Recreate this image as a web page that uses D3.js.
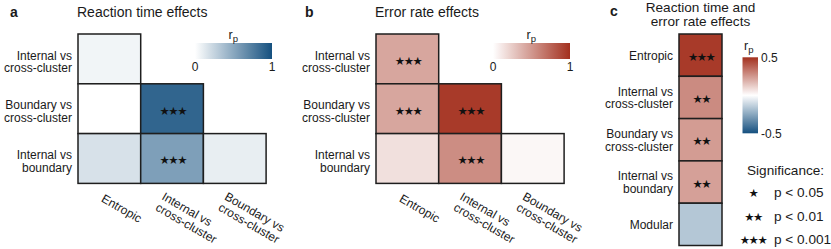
<!DOCTYPE html>
<html><head><meta charset="utf-8">
<script src="https://cdn.jsdelivr.net/npm/d3@7"></script>
<style>
body{margin:0;background:#fff;}
text{font-family:"Liberation Sans",Arial,Helvetica,sans-serif;fill:#1a1a1a;}
.star{font-family:"DejaVu Sans",sans-serif;fill:#111;}
</style></head>
<body>
<svg id="chart" width="831" height="249"></svg>
<script>
// ---------- DATA ----------
const rowLabels = ["Internal vs\ncross-cluster", "Boundary vs\ncross-cluster", "Internal vs\nboundary"];
const colLabels = ["Entropic", "Internal vs\ncross-cluster", "Boundary vs\ncross-cluster"];
// lower-triangular matrices: row i has columns 0..i
const rtValues = [[0.06], [0.0, 0.88], [0.17, 0.55, 0.1]];
const rtSig    = [[""], ["", "***"], ["", "***", ""]];
const erValues = [[0.43], [0.43, 0.95], [0.15, 0.55, 0.04]];
const erSig    = [["***"], ["***", "***"], ["", "***", ""]];
const cLabels  = ["Entropic", "Internal vs\ncross-cluster", "Boundary vs\ncross-cluster", "Internal vs\nboundary", "Modular"];
const cValues  = [0.475, 0.28, 0.24, 0.23, -0.16];
const cSig     = ["***", "**", "**", "**", ""];
const sigLevels = [["*", "p < 0.05"], ["**", "p < 0.01"], ["***", "p < 0.001"]];

// ---------- COLOURS ----------
const BLUE = "#15507f", RED = "#a3301e";
const blueScale = d3.scaleLinear().domain([0, 1]).range(["#ffffff", BLUE]).interpolate(d3.interpolateRgb);
const redScale  = d3.scaleLinear().domain([0, 1]).range(["#ffffff", RED]).interpolate(d3.interpolateRgb);
const divScale  = d3.scaleLinear().domain([-0.5, 0, 0.5]).range([BLUE, "#ffffff", RED]).interpolate(d3.interpolateRgb);

const svg = d3.select("#chart");
const STROKE = "#1e1e1e";
const LH = 12.6;

function multiline(sel, txt, lh) {
  txt.split("\n").forEach((l, i) => sel.append("tspan").attr("x", 0).attr("dy", i === 0 ? 0 : lh).text(l));
}

function starText(g, x, y, s, size) {
  g.append("text").attr("class", "star").attr("x", x).attr("y", y)
    .attr("text-anchor", "middle").attr("dominant-baseline", "central")
    .attr("font-size", size).attr("letter-spacing", -1.5).text(s.replace(/\*/g, "★"));
}

function triPanel(opts) {
  const {x0, y0, w, h, values, sig, scale, letter, title, letterX, cb} = opts;
  const g = svg.append("g");
  const xs = d3.scaleBand().domain(d3.range(3)).range([x0, x0 + 3 * w]).padding(0);
  const ys = d3.scaleBand().domain(d3.range(3)).range([y0, y0 + 3 * h]).padding(0);
  const cells = [];
  values.forEach((row, i) => row.forEach((v, j) => cells.push({i, j, v, s: sig[i][j]})));
  g.selectAll("rect.cell").data(cells).enter().append("rect")
    .attr("x", d => xs(d.j)).attr("y", d => ys(d.i))
    .attr("width", xs.bandwidth()).attr("height", ys.bandwidth())
    .attr("fill", d => scale(d.v)).attr("stroke", STROKE).attr("stroke-width", 1.5);
  cells.filter(d => d.s).forEach(d => starText(g, xs(d.j) + xs.bandwidth() / 2 + 0.7, ys(d.i) + ys.bandwidth() / 2 + 1.8, d.s, 11.5));
  // row labels
  rowLabels.forEach((l, i) => {
    const t = g.append("text").attr("text-anchor", "end").attr("font-size", 12)
      .attr("transform", `translate(${x0 - 6},${ys(i) + ys.bandwidth() / 2 + 0.7})`);
    multiline(t, l, LH);
  });
  // column labels (rotated)
  colLabels.forEach((l, j) => {
    const single = !l.includes("\n");
    const cx = xs(j) + xs.bandwidth() / 2 + (single ? -8.8 : -11);
    const cy = y0 + 3 * h + (single ? 17.5 : 15.5);
    const t = g.append("text").attr("font-size", 12)
      .attr("transform", `translate(${cx},${cy}) rotate(30)`);
    multiline(t, l, LH);
  });
  // titles
  g.append("text").attr("x", letterX).attr("y", 16.5).attr("font-size", 14).attr("font-weight", "bold").text(letter);
  g.append("text").attr("x", x0 - 1).attr("y", 16.5).attr("font-size", 14).text(title);
  // colour bar
  const gradId = "grad" + letter;
  const grad = svg.append("defs").append("linearGradient").attr("id", gradId);
  d3.range(0, 1.001, 0.1).forEach(t => grad.append("stop").attr("offset", t).attr("stop-color", scale(t)));
  const cbScale = d3.scaleLinear().domain([0, 1]).range([cb.x, cb.x + cb.w]);
  g.append("rect").attr("x", cb.x).attr("y", cb.y).attr("width", cb.w).attr("height", cb.h).attr("fill", `url(#${gradId})`);
  [0, 1].forEach(v => g.append("text").attr("x", cbScale(v)).attr("y", cb.y + cb.h + 12).attr("text-anchor", "middle").attr("font-size", 12).text(v));
  const rp = g.append("text").attr("x", cbScale(0.5) - 5).attr("y", cb.y - 4).attr("font-size", 12.5);
  rp.append("tspan").text("r");
  rp.append("tspan").attr("dy", 3).attr("font-size", 9.5).text("p");
}

triPanel({x0: 78, y0: 34, w: 62.7, h: 49.8, values: rtValues, sig: rtSig, scale: blueScale,
  letter: "a", title: "Reaction time effects", letterX: 10, cb: {x: 195, y: 43, w: 77, h: 16}});
triPanel({x0: 376, y0: 34, w: 62.7, h: 49.8, values: erValues, sig: erSig, scale: redScale,
  letter: "b", title: "Error rate effects", letterX: 305, cb: {x: 493, y: 43, w: 77, h: 16}});

// ---------- PANEL C ----------
(function() {
  const g = svg.append("g");
  const x0 = 679, w = 43, y0 = 34, h = 42.3;
  const ys = d3.scaleBand().domain(d3.range(cLabels.length)).range([y0, y0 + cLabels.length * h]);
  g.selectAll("rect.c").data(cValues).enter().append("rect")
    .attr("x", x0).attr("y", (d, i) => ys(i)).attr("width", w).attr("height", ys.bandwidth())
    .attr("fill", d => divScale(d)).attr("stroke", STROKE).attr("stroke-width", 1.5);
  cSig.forEach((s, i) => { if (s) starText(g, x0 + w / 2 + 0.7, ys(i) + ys.bandwidth() / 2 + 1.5, s, 11.5); });
  cLabels.forEach((l, i) => {
    const lines = l.split("\n");
    const off = lines.length === 1 ? 4.5 : -1.8;
    const t = g.append("text").attr("text-anchor", "end").attr("font-size", 12)
      .attr("transform", `translate(${x0 - 6},${ys(i) + ys.bandwidth() / 2 + off})`);
    multiline(t, l, LH);
  });
  g.append("text").attr("x", 610).attr("y", 16).attr("font-size", 14).attr("font-weight", "bold").text("c");
  const tt = g.append("text").attr("text-anchor", "middle").attr("font-size", 13.6)
    .attr("transform", "translate(700.5,12.4)");
  tt.append("tspan").attr("x", 0).text("Reaction time and");
  tt.append("tspan").attr("x", 0).attr("dy", 13.6).text("error rate effects");
  // colour bar (vertical)
  const cb = {x: 742.5, y: 57.3, w: 15.5, h: 76};
  const grad = svg.append("defs").append("linearGradient").attr("id", "gradc")
    .attr("x1", 0).attr("y1", 0).attr("x2", 0).attr("y2", 1);
  d3.range(0, 1.001, 0.05).forEach(t => grad.append("stop").attr("offset", t).attr("stop-color", divScale(0.5 - t)));
  const cbs = d3.scaleLinear().domain([0.5, -0.5]).range([cb.y, cb.y + cb.h]);
  g.append("rect").attr("x", cb.x).attr("y", cb.y).attr("width", cb.w).attr("height", cb.h).attr("fill", "url(#gradc)");
  [0.5, -0.5].forEach(v => g.append("text").attr("x", cb.x + cb.w + 3).attr("y", cbs(v) + 4.5).attr("font-size", 12).text(v));
  const rp = g.append("text").attr("x", cb.x + 1.5).attr("y", cb.y - 7).attr("font-size", 12.5);
  rp.append("tspan").text("r");
  rp.append("tspan").attr("dy", 3).attr("font-size", 9.5).text("p");
  // significance legend
  g.append("text").attr("x", 747).attr("y", 175).attr("font-size", 13.6).text("Significance:");
  sigLevels.forEach(([s, p], i) => {
    const y = 197 + i * 23.5;
    starText(g, 753, y - 4, s, 11.5);
    g.append("text").attr("x", 774).attr("y", y).attr("font-size", 13.6).text(p);
  });
})();
</script>
</body></html>
